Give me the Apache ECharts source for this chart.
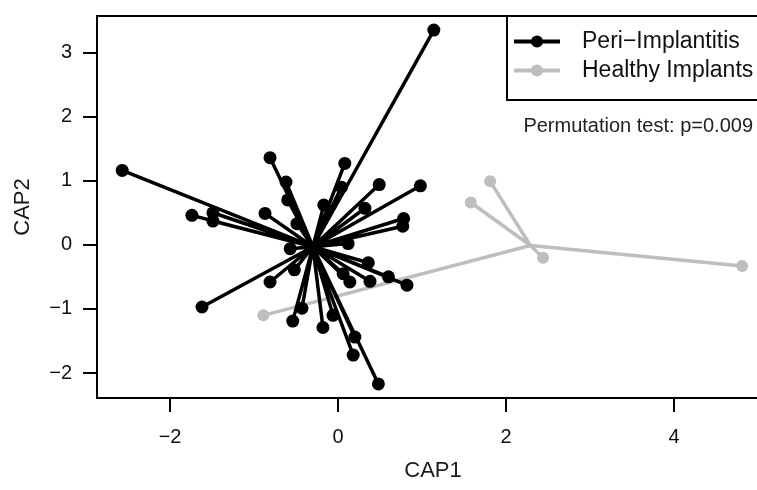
<!DOCTYPE html>
<html>
<head>
<meta charset="utf-8">
<script src="https://cdn.jsdelivr.net/npm/echarts@6/dist/echarts.min.js"></script>
<style>
  html, body { margin: 0; padding: 0; background: #fff; }
  #chart { width: 757px; height: 490px; }
</style>
</head>
<body>
<div id="chart"></div>
<script>
// CAP ordination spider plot
var groupNames = ['Peri\u2212Implantitis', 'Healthy Implants'];
var groupColors = ['#000000', '#bebebe'];

// centroids
var periCentroid = [-0.30, -0.03];
var healthyCentroid = [2.29, -0.01];

// sample scores (CAP1, CAP2)
var periPoints = [
  [1.14, 3.35], [-2.57, 1.16], [-0.81, 1.36], [-0.62, 0.98], [-0.60, 0.70],
  [-0.87, 0.49], [-1.74, 0.46], [-1.49, 0.50], [-1.49, 0.37], [-0.49, 0.33],
  [-0.57, -0.06], [0.08, 1.27], [0.04, 0.90], [-0.17, 0.62], [0.49, 0.94],
  [0.98, 0.92], [0.32, 0.57], [0.78, 0.41], [0.77, 0.29], [0.12, 0.02],
  [-0.52, -0.39], [-0.81, -0.58], [-1.62, -0.97], [-0.54, -1.19], [-0.43, -0.99],
  [0.36, -0.28], [0.06, -0.45], [0.14, -0.58], [0.38, -0.57], [0.60, -0.50],
  [0.82, -0.63], [-0.18, -1.29], [-0.06, -1.10], [0.20, -1.44], [0.18, -1.72],
  [0.48, -2.17]
];
var healthyPoints = [
  [1.81, 0.99], [1.58, 0.66], [2.44, -0.20], [4.81, -0.33], [-0.89, -1.10]
];

var xTicks = [-2, 0, 2, 4];
var yTicks = [-2, -1, 0, 1, 2, 3];
var pText = 'Permutation test: p=0.009';

// spokes: centroid -> point, broken by empty values
function spokes(c, pts){
  var out = [];
  pts.forEach(function(p){
    out.push({ value: c, symbol: 'none' });
    out.push({ value: p });
    out.push({ value: ['-', '-'], symbol: 'none' });
  });
  return out;
}

function minusFmt(v){ return v < 0 ? '\u2212' + Math.abs(v) : String(v); }

var chart = echarts.init(document.getElementById('chart'));
var font = 'Liberation Sans, Arial, sans-serif';

chart.setOption({
  animation: false,
  grid: {
    left: 97, top: 16, bottom: 92, right: -12,
    outerBoundsMode: 'none', containLabel: false,
    show: true, borderColor: '#000', borderWidth: 2, backgroundColor: 'transparent'
  },
  xAxis: {
    type: 'value', min: -2.87, max: 5.13,
    name: 'CAP1', nameLocation: 'middle', nameGap: 62,
    nameTextStyle: { fontFamily: font, fontSize: 22, color: '#1a1a1a' },
    axisLine: { show: false, onZero: false },
    splitLine: { show: false },
    axisTick: { show: true, length: 14, customValues: xTicks, lineStyle: { color: '#000', width: 2 } },
    axisLabel: { customValues: xTicks, margin: 29, fontFamily: font, fontSize: 20, color: '#111', formatter: minusFmt }
  },
  yAxis: {
    type: 'value', min: -2.39, max: 3.57,
    name: 'CAP2', nameLocation: 'middle', nameGap: 63, nameRotate: 90,
    nameTextStyle: { fontFamily: font, fontSize: 22, color: '#1a1a1a' },
    axisLine: { show: false, onZero: false },
    splitLine: { show: false },
    axisTick: { show: true, length: 14, customValues: yTicks, lineStyle: { color: '#000', width: 2 } },
    axisLabel: { customValues: yTicks, margin: 25, fontFamily: font, fontSize: 20, color: '#111', formatter: minusFmt }
  },
  legend: {
    data: groupNames,
    orient: 'vertical',
    left: 507, top: 16,
    padding: [14, 40, 18, 5],
    itemGap: 6,
    itemWidth: 46, itemHeight: 15,
    borderColor: '#000', borderWidth: 2,
    backgroundColor: '#fff',
    lineStyle: { width: 4 },
    textStyle: { fontFamily: font, fontSize: 23, color: '#111', padding: [0, 0, 0, 17] }
  },
  graphic: [{
    type: 'text', right: 4, top: 116, z: 100,
    style: { text: pText, fontFamily: font, fontSize: 20, fill: '#222' }
  }],
  series: [
    {
      name: groupNames[1], type: 'line', data: spokes(healthyCentroid, healthyPoints),
      symbol: 'circle', symbolSize: 12, showSymbol: true,
      lineStyle: { color: groupColors[1], width: 3.5 },
      itemStyle: { color: groupColors[1] },
      connectNulls: false, z: 2
    },
    {
      name: groupNames[0], type: 'line', data: spokes(periCentroid, periPoints),
      symbol: 'circle', symbolSize: 13, showSymbol: true,
      lineStyle: { color: groupColors[0], width: 3.5 },
      itemStyle: { color: groupColors[0] },
      connectNulls: false, z: 3
    }
  ]
});
</script>
</body>
</html>
